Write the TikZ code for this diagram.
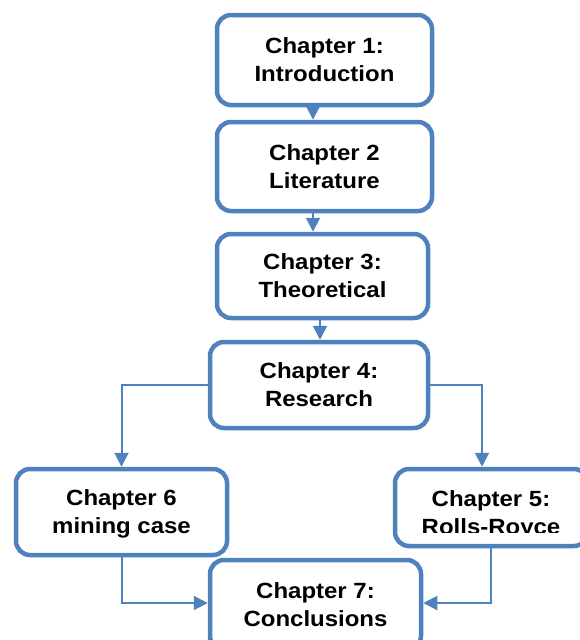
\documentclass[tikz,border=0pt]{standalone}
\usepackage{fontspec}
\setmainfont{Liberation Sans}[FakeStretch=1.09]
\usetikzlibrary{arrows.meta}
\definecolor{flowblue}{RGB}{79,129,189}
\begin{document}
\begin{tikzpicture}[x=1pt,y=-1pt,
  chapfont/.style={font=\fontsize{22}{28}\selectfont\bfseries, align=center, text depth=0pt},
  chapbox/.style={chapfont, draw=flowblue, line width=4.5pt, rounded corners=14pt,
    fill=white, inner sep=0pt, execute at begin node={\rule{0pt}{19.5pt}}},
  link/.style={draw=flowblue, line width=2pt, -{Triangle[width=14pt,length=14pt]}},
]
\clip (0,0) rectangle (580,640);
\useasboundingbox (0,0) rectangle (580,640);

% chapter boxes
\node[chapbox, minimum width=215pt, minimum height=90pt] (b1) at (324.5,60) {Chapter 1:\\Introduction};
\node[chapbox, minimum width=215pt, minimum height=89pt] (b2) at (324.5,166.5) {Chapter 2\\Literature};
\node[chapbox, minimum width=211pt, minimum height=84pt] (b3) at (322.5,276) {Chapter 3:\\Theoretical};
\node[chapbox, minimum width=218pt, minimum height=86pt] (b4) at (319,385) {Chapter 4:\\Research};
\node[chapbox, minimum width=211pt, minimum height=86pt] (b6) at (121.5,512) {Chapter 6\\mining case};
\node[chapbox, minimum width=193pt, minimum height=77pt] (b5) at (491.5,507.5) {};
\begin{scope}
  \clip (395,469) rectangle (588,532);
  \node[chapfont, inner sep=0pt] (t5) at (491,512.5) {Chapter 5:\\Rolls-Royce};
\end{scope}
\node[chapbox, minimum width=211pt, minimum height=90pt] (b7) at (315.5,605) {Chapter 7:\\Conclusions};

% connectors
\draw[link] ([xshift=-11.5pt]b1.south) -- ([xshift=-11.5pt]b1.south |- b2.north);
\draw[link] ([xshift=-11.5pt]b2.south) -- ([xshift=-11.5pt]b2.south |- b3.north);
\draw[link] ([xshift=-2.5pt]b3.south) -- ([xshift=-2.5pt]b3.south |- b4.north);
\draw[link] (b4.west) -| (b6.north);
\draw[link] (b4.east) -| ([xshift=-9.5pt]b5.north);
\draw[link] (b6.south) |- ([yshift=2pt]b7.west);
\draw[link] ([xshift=-0.5pt]b5.south) |- ([yshift=2pt]b7.east);
\end{tikzpicture}
\end{document}
